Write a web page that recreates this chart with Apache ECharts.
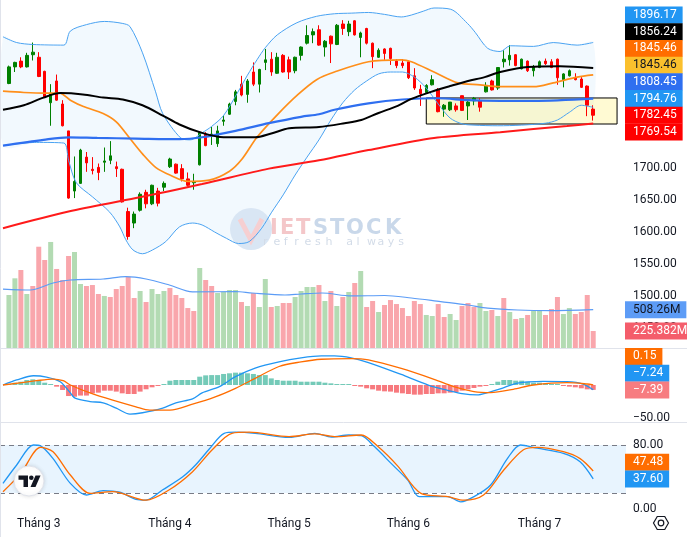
<!DOCTYPE html>
<html>
<head>
<meta charset="utf-8">
<script src="https://cdn.jsdelivr.net/npm/echarts@6.0.0/dist/echarts.min.js"></script>
<style>
html,body{margin:0;padding:0;background:#ffffff;}
#chart{width:687px;height:537px;}
</style>
</head>
<body>
<div id="chart"></div>
<script>
// ---------------- DATA ----------------
const monthIdx   = [5, 27, 47, 67, 89];
const monthNames = ['Tháng 3', 'Tháng 4', 'Tháng 5', 'Tháng 6', 'Tháng 7'];

const opens  = [1832,1858,1867,1858,1877,1873,1851,1802,1836,1800,1758,1664,1676,1717,1698,1701,1709,1712,1702,1698,
                1632,1614,1634,1662,1644,1664,1670,1702,1706,1699,1683,1677,1705,1753,1750,1738,1773,1784,1804,1831,
                1815,1850,1831,1865,1870,1848,1876,1869,1852,1876,1895,1908,1916,1889,1906,1893,1925,1913,1930,1904,
                1918,1895,1873,1886,1887,1867,1864,1866,1844,1823,1818,1830,1822,1792,1791,1797,1813,1797,1805,1805,
                1819,1836,1825,1866,1869,1877,1855,1867,1852,1857,1867,1866,1870,1838,1844,1841,1839,1828,1792];
const closes = [1858,1865,1858,1876,1881,1843,1811,1817,1806,1766,1653,1679,1728,1708,1696,1693,1711,1719,1699,1647,
                1593,1628,1659,1644,1673,1645,1676,1714,1692,1683,1673,1679,1756,1735,1753,1758,1775,1800,1819,1814,
                1836,1831,1854,1869,1850,1873,1850,1850,1873,1889,1907,1913,1892,1898,1894,1923,1918,1925,1908,1911,
                1895,1874,1884,1879,1871,1860,1860,1841,1825,1816,1829,1838,1788,1798,1803,1791,1790,1803,1809,1795,
                1829,1822,1857,1870,1876,1860,1870,1852,1858,1866,1863,1857,1841,1847,1852,1838,1826,1798,1782.45];
const lows   = [1831,1850,1856,1857,1868,1842,1810,1766,1805,1765,1652,1653,1675,1694,1690,1681,1694,1706,1686,1646,
                1588,1606,1632,1637,1642,1640,1664,1700,1691,1679,1671,1666,1704,1734,1736,1733,1766,1783,1798,1812,
                1802,1828,1818,1853,1844,1847,1849,1839,1848,1868,1893,1895,1891,1874,1864,1892,1908,1906,1907,1873,
                1893,1856,1872,1869,1861,1856,1856,1839,1822,1797,1816,1829,1787,1780,1789,1788,1789,1775,1798,1788,
                1818,1821,1822,1857,1860,1859,1854,1850,1843,1856,1861,1856,1830,1826,1843,1837,1825,1781,1774];
const highs  = [1860,1866,1873,1880,1896,1881,1852,1831,1846,1806,1758,1718,1730,1725,1717,1707,1732,1742,1710,1699,
                1638,1632,1662,1666,1674,1669,1679,1716,1707,1706,1693,1691,1757,1756,1764,1766,1782,1802,1822,1844,
                1839,1865,1855,1886,1881,1880,1878,1874,1874,1890,1923,1918,1923,1900,1907,1925,1931,1930,1931,1913,
                1919,1896,1887,1887,1888,1870,1870,1868,1856,1830,1831,1845,1825,1800,1803,1801,1813,1806,1811,1809,
                1834,1838,1857,1884,1892,1878,1871,1868,1861,1868,1871,1870,1871,1848,1854,1848,1842,1829,1798];

// volume in millions, and its colour direction as seen (1 = green, 0 = red)
const volumes = [703,924,1034,716,822,1343,1167,1406,1048,902,1220,1273,849,822,835,716,690,676,782,822,
                 946,663,756,610,782,716,756,796,703,663,530,491,1061,902,822,729,743,769,769,610,
                 557,729,544,915,544,557,597,597,676,756,809,809,835,623,756,557,676,743,862,1021,
                 544,623,477,570,636,583,530,424,623,583,438,424,583,411,451,371,557,597,544,597,
                 491,504,424,663,477,385,398,438,491,491,438,517,676,451,530,451,477,703,225.382];
const volUp   = [1,1,0,1,0,0,0,1,0,0,0,1,1,0,0,0,1,0,0,0,
                 0,0,1,0,1,1,1,0,0,0,0,0,1,0,0,1,1,1,1,0,
                 1,0,1,1,0,1,0,0,1,1,1,1,0,1,0,1,0,1,0,1,
                 0,0,1,0,0,0,0,0,0,0,1,1,0,0,1,1,0,0,0,1,
                 1,0,1,0,1,0,1,0,1,1,0,0,0,1,1,0,0,0,0];
const volMA = [[-1,782],[3.6,769],[7.4,862],[10.3,902],[15.8,915],[19.6,946],[23,915],[26.9,835],[30.8,743],
               [38,749],[40.8,729],[46.3,703],[49,716],[52.5,729],[57.4,690],[63,696],[67.5,663],[72.4,615],
               [77,570],[80.3,530],[85.3,504],[90.8,495],[98,508.26]];

// price overlays: [candle index, value]
const bbUpper = [[-1,1905],[1.3,1896],[4,1893],[9.2,1892],[10.3,1914],[13,1924],[16,1929],[19,1926],[20.3,1921],
                 [22.4,1880],[24.6,1819],[25.8,1785],[28.8,1747],[30.4,1744],[32.4,1755],[34,1765],[36,1782],
                 [38.3,1817],[40,1845],[41.6,1869],[43,1888],[45,1908],[48.3,1927],[51.6,1937],[54.6,1941],
                 [57.5,1942],[60.3,1943],[63,1940],[65.8,1936],[67.5,1939],[69.5,1945],[71.3,1950],[74.1,1948],
                 [76.9,1926],[78.2,1912],[80.3,1887],[82.4,1882],[84.1,1891],[88,1890],[91.3,1896],[95.3,1892],
                 [98,1896.17]];
const bbLower = [[-1,1735],[4.6,1740],[9.2,1739],[10,1712],[11.3,1677],[14,1655],[16.9,1631],[18.6,1608],
                 [19.6,1588],[20.8,1572],[22.4,1566],[24.1,1572],[26.3,1585],[28.6,1608],[30.8,1614],[32.4,1611],
                 [34.5,1600],[36.5,1590],[38.5,1582],[40.3,1585],[42.4,1606],[44,1630],[46,1658],[48,1689],
                 [50,1717],[52,1744],[54,1775],[56,1802],[58,1822],[60,1836],[62,1847],[64,1850],[66,1850],
                 [68,1842],[70,1825],[72,1800],[74,1778],[76,1769],[78,1767],[82,1766],[86,1767],[90,1770],
                 [92,1775],[94,1787],[96,1798],[98,1794.76]];
const bbBasis = [[-1,1820],[2.5,1818],[6,1817],[8.5,1817],[10.3,1806],[12.5,1796],[15.8,1785],[18,1772],
                 [20.3,1746],[22.4,1722],[24.6,1701],[27,1689],[30,1679],[33.6,1681],[37,1695],[39.1,1714],
                 [41.6,1748],[45.2,1785],[48.5,1815],[51.6,1838],[54.6,1850],[60.3,1866],[65.8,1869],[67.5,1866],
                 [71.3,1850],[75.3,1833],[79,1830],[82.4,1827],[88,1827],[91.3,1833],[95.3,1842],[98,1845.46]];
const sma50   = [[-1,1791],[2.5,1798],[5.8,1810],[8.6,1817],[12.4,1815],[15.8,1810],[19.1,1807],[22.4,1798],
                 [25.8,1782],[28.6,1768],[32,1756],[36,1748],[41.3,1748],[44,1754],[47,1762],[52,1764],
                 [56.3,1770],[59.1,1775],[62,1786],[65.2,1797],[67.5,1808],[70.8,1819],[74,1828],[77,1836],
                 [79.8,1842],[82.4,1850],[87,1858],[92.4,1859],[98,1856.24]];
const sma100  = [[-1,1735],[5.8,1744],[10,1748],[14.8,1747],[21.3,1746],[28.6,1745],[32.4,1748],[38,1758],
                 [43.6,1770],[49,1780],[52,1784],[54.6,1791],[60.3,1801],[66,1807],[72,1809],[77,1806],
                 [82.4,1805],[88,1805],[98,1808.45]];
const sma200  = [[-1,1606],[10,1632],[21.3,1653],[32.4,1675],[43.6,1699],[52,1712],[60.3,1728],[71.3,1747],
                 [82.4,1756],[93.6,1765.6],[98,1769.54]];
const zoneBox = {from: 70, to: 102, top: 1809.4, bottom: 1768.75};

// MACD
const macdLine = [[-1,0],[1.3,7.6],[4.1,14],[6.3,12],[8.6,5],[10.3,-12],[11.1,-20],[13.6,-25],[15.8,-27],
                  [18,-35],[20.3,-44],[22.4,-42],[25.8,-35],[28,-27],[30.8,-21],[32.4,-12],[35.3,-2.5],[38,12.6],
                  [41.3,25.6],[45.3,35],[49,41],[52.4,44],[54.6,44],[57.4,41],[60.3,34],[65.8,16],[68.6,6],
                  [71.3,-3],[73.6,-8],[76,-13],[78.5,-15],[80.5,-11],[82.4,-6],[85.3,3],[89.6,5.5],[93.6,5],
                  [96.3,1.5],[98,-7.24]];
const signalLine = [[-1,0],[4.6,6.5],[7.4,9],[9.1,6.5],[10.3,0],[13.6,-12],[17.4,-23],[21.3,-33],[23.6,-38],
                    [27,-38],[30.8,-29],[34.6,-18],[38,-5],[41.3,10],[45.3,28],[49,35],[52.4,39],[57.4,40],
                    [60.3,38],[65.8,25],[71.3,8.6],[74.6,-2.5],[78,-10],[80.8,-11.6],[84.6,-6.5],[88,0],
                    [93.6,3.5],[97,1.5],[98,0.15]];
const macdHist = [1.5,3.5,5,7.6,8.6,6.5,3.5,1.5,-2.5,-7.6,-16.7,-17.7,-16,-16,-12.6,-11.6,-8.6,-8.6,-10,-12.6,
                  -13.6,-13.6,-10,-6.5,-3.5,-1.5,1.5,6.5,7.6,7.6,7.6,7.6,12.6,14.6,15,15,16.7,17.7,18.7,18.7,
                  17.7,16.7,15,15,10,7.6,6.5,6.5,6.5,5,5,5,5,3.5,2.5,1.5,1.5,1.5,-1.5,-2.5,
                  -5,-6.6,-8.6,-9.6,-10,-11.6,-12.6,-13.6,-14.6,-14.6,-13.6,-13.6,-12.6,-12.6,-11.6,-10.6,-8.6,-6.6,-4.5,-2.5,
                  -1.5,1.5,5,7.6,7.6,6.6,6.6,5,3.5,3.5,2.5,1.5,1.5,-1.5,-2.5,-3.5,-5,-6.6,-7.39];

// Stochastic
const stochK = [[-1,32],[1.3,55],[4.1,80],[5.3,79],[7.4,63],[10.3,32],[13,17.5],[15.8,23],[18.6,21],[21.3,12],
                [23,11],[25.8,24],[29.1,40],[31.3,55],[33.6,75],[36.1,94.6],[38,96],[41.3,94.6],[47,89.6],
                [51.3,94.6],[54.1,90],[57,92.5],[59.1,91.6],[61.3,78],[64.1,57],[66.9,36],[68.8,15.4],[70.8,15.4],
                [73.6,15.4],[75.8,9],[78,15.4],[80.8,30],[83.6,63],[85.8,80],[88.6,76],[93,69.6],[95.8,59],[98,37.6]];
const stochD = [[-1,21.6],[2,44.6],[5.3,77],[7.4,71.6],[10.3,42.5],[13.6,19.6],[17.4,21.6],[23,11],[26.9,24],
                [30.8,46.6],[34.1,74],[37.4,94.6],[40.3,96],[47,90.4],[51.3,94],[54.6,90.4],[59.1,92.5],[61.9,78],
                [65.3,53],[69.1,19.6],[73.6,15.4],[76.3,11],[79.6,17.5],[83,48.8],[86.3,74],[88.6,77],[93,71.6],
                [95.8,63],[98,47.48]];

const priceTicks = [1450, 1500, 1550, 1600, 1650, 1700];
const macdTicks  = [-50];
const stochTicks = [0, 80];
const stochBands = [20, 80];

// ---------------- CHART ----------------
const PAD = 1, N = 105;
const FONT = 'Roboto, "Noto Sans", sans-serif';
const TXT = '#131722';
const cats = Array.from({length: N}, (_, k) => String(k));
const last = a => a[a.length - 1][1];
const fmt = v => v.toFixed(2).replace('-', '\u2212');
const shift = arr => arr.map(p => [p[0] + PAD, p[1]]);

const candleData = cats.map((_, k) => {
  const c = k - PAD;
  return (c >= 0 && c < opens.length) ? [opens[c], closes[c], lows[c], highs[c]] : '-';
});
const volData = cats.map((_, k) => {
  const c = k - PAD;
  return (c >= 0 && c < volumes.length)
    ? {value: volumes[c], itemStyle: {color: volUp[c] ? '#b3dbb3' : '#f9a6ac'}} : '-';
});
const histData = cats.map((_, k) => {
  const c = k - PAD;
  return (c >= 0 && c < macdHist.length)
    ? {value: macdHist[c], itemStyle: {color: macdHist[c] >= 0 ? '#74cab8' : '#f7797e'}} : '-';
});

function line(data, xi, yi, color, width, z) {
  return {type: 'line', xAxisIndex: xi, yAxisIndex: yi, data: shift(data), showSymbol: false, symbol: 'none',
          smooth: 0.3, lineStyle: {color: color, width: width}, z: z, silent: true};
}
const axisLbl = (ticks) => ({customValues: ticks, formatter: v => fmt(v), color: TXT, fontSize: 12,
                             fontFamily: FONT, margin: 7});
const grids = [
  {left: -4, width: 630, top: 0, height: 348},
  {left: -4, width: 630, top: 348, height: 74},
  {left: -4, width: 630, top: 422, height: 90}
];

const chart = echarts.init(document.getElementById('chart'), null, {renderer: 'canvas'});
chart.setOption({
  animation: false,
  backgroundColor: '#ffffff',
  textStyle: {fontFamily: FONT},
  grid: grids,
  xAxis: [
    {type: 'category', gridIndex: 0, data: cats, show: false},
    {type: 'value', gridIndex: 0, min: -0.5, max: N - 0.5, show: false},
    {type: 'category', gridIndex: 1, data: cats, show: false},
    {type: 'value', gridIndex: 1, min: -0.5, max: N - 0.5, show: false},
    {type: 'category', gridIndex: 2, data: cats, axisLine: {show: false}, axisTick: {show: false},
     splitLine: {show: false},
     axisLabel: {interval: (i) => monthIdx.indexOf(i - PAD) >= 0,
                 formatter: (v, i) => { const m = monthIdx.indexOf(i - PAD); return m >= 0 ? monthNames[m] : ''; },
                 color: TXT, fontSize: 12, fontFamily: FONT, margin: 6}},
    {type: 'value', gridIndex: 2, min: -0.5, max: N - 0.5, show: false}
  ],
  yAxis: [
    {type: 'value', gridIndex: 0, position: 'right', min: 1418.75, max: 1962.5, axisLine: {show: false},
     axisTick: {show: false}, splitLine: {show: false}, axisLabel: axisLbl(priceTicks)},
    {type: 'value', gridIndex: 0, min: 0, max: 4614.5, show: false},
    {type: 'value', gridIndex: 1, position: 'right', min: -56, max: 56, axisLine: {show: false},
     axisTick: {show: false}, splitLine: {show: false}, axisLabel: axisLbl(macdTicks)},
    {type: 'value', gridIndex: 2, position: 'right', min: -3.75, max: 108.75, axisLine: {show: false},
     axisTick: {show: false}, splitLine: {show: false}, axisLabel: axisLbl(stochTicks)}
  ],
  series: [
    // Bollinger fill
    {type: 'custom', xAxisIndex: 1, yAxisIndex: 0, data: [[0, 0]], z: 0, silent: true,
     renderItem: (params, api) => {
       const pts = shift(bbUpper).map(p => api.coord(p))
         .concat(shift(bbLower).reverse().map(p => api.coord(p)));
       return {type: 'polygon', shape: {points: pts, smooth: 0.3}, style: {fill: 'rgba(33,150,243,0.06)'}};
     }},
    // volume
    {type: 'bar', xAxisIndex: 0, yAxisIndex: 1, data: volData, barWidth: 5, z: 1, silent: true},
    line(volMA, 1, 1, '#5b9cf6', 1.2, 2),
    // candles
    {type: 'candlestick', xAxisIndex: 0, yAxisIndex: 0, data: candleData, barWidth: 3, z: 3, silent: true,
     itemStyle: {color: '#008000', color0: '#ff0000', borderColor: '#008000', borderColor0: '#ff0000', borderWidth: 1},
     markArea: {silent: true, z: 1,
       itemStyle: {color: 'rgba(255,241,118,0.32)', borderColor: '#000000', borderWidth: 1},
       data: [[{xAxis: zoneBox.from + PAD, yAxis: zoneBox.top}, {xAxis: zoneBox.to + PAD, yAxis: zoneBox.bottom}]]}},
    line(bbUpper, 1, 0, '#4aa3f2', 1, 4),
    line(bbLower, 1, 0, '#4aa3f2', 1, 4),
    line(sma200, 1, 0, '#ff1a1a', 2, 4),
    line(bbBasis, 1, 0, '#ff8f1a', 1.7, 5),
    line(sma100, 1, 0, '#2f6ff0', 2.2, 5),
    line(sma50, 1, 0, '#000000', 2, 6),
    // MACD
    {type: 'bar', xAxisIndex: 2, yAxisIndex: 2, data: histData, barWidth: 5, z: 2, silent: true},
    line(macdLine, 3, 2, '#2196f3', 1.3, 4),
    line(signalLine, 3, 2, '#ff6d00', 1.3, 4),
    // Stochastic
    Object.assign(line(stochK, 5, 3, '#2196f3', 1.3, 4), {
      markArea: {silent: true, z: 1, itemStyle: {color: 'rgba(33,150,243,0.1)'},
                 data: [[{yAxis: stochBands[0]}, {yAxis: stochBands[1]}]]},
      markLine: {silent: true, symbol: 'none', z: 2, label: {show: false},
                 lineStyle: {color: '#787b86', type: [5, 4], width: 1},
                 data: stochBands.map(b => ({yAxis: b}))}
    }),
    line(stochD, 5, 3, '#ff6d00', 1.3, 4)
  ]
});

// ---------------- axis value tags (TradingView style, stacked) ----------------
function stackTags(yAxisIndex, items, anchor) {
  const H = 16.7;
  const ys = items.map(it => chart.convertToPixel({yAxisIndex: yAxisIndex}, it.v));
  const pos = ys.slice();
  for (let j = anchor - 1; j >= 0; j--) pos[j] = Math.min(ys[j], pos[j + 1] - H);
  for (let j = anchor + 1; j < items.length; j++) pos[j] = Math.max(ys[j], pos[j - 1] + H);
  return items.map((it, j) => ({
    type: 'text', x: 625, y: pos[j], z: 100, silent: true,
    style: {text: it.t, fill: it.fg || '#ffffff', backgroundColor: it.bg, padding: [2, 6, 2, 8],
            font: '12px ' + FONT, lineHeight: 13, verticalAlign: 'middle', align: 'left'}
  }));
}
const priceTags = [
  {v: last(bbUpper), bg: '#2196f3'},
  {v: last(sma50), bg: '#000000'},
  {v: last(bbBasis), bg: '#ff6d00'},
  {v: last(bbBasis), bg: '#fbc02d', fg: TXT},
  {v: last(sma100), bg: '#2f6ff0'},
  {v: last(bbLower), bg: '#2196f3'},
  {v: closes[closes.length - 1], bg: '#ff0000'},
  {v: last(sma200), bg: '#ff0000'}
].map(o => Object.assign(o, {t: fmt(o.v)}));
const volTags = [
  {v: last(volMA), t: last(volMA) + 'M', bg: '#5d9cf6', fg: TXT},
  {v: volumes[volumes.length - 1], t: volumes[volumes.length - 1] + 'M', bg: '#f45d6b'}
];
const macdTags = [
  {v: last(signalLine), bg: '#ff6d00'},
  {v: last(macdLine), bg: '#2196f3'},
  {v: macdHist[macdHist.length - 1], bg: '#f77c80'}
].map(o => Object.assign(o, {t: fmt(o.v)}));
const stochTags = [
  {v: last(stochD), bg: '#ff6d00'},
  {v: last(stochK), bg: '#2196f3'}
].map(o => Object.assign(o, {t: fmt(o.v)}));

const graphics = [];
// pane borders
graphics.push({type: 'line', shape: {x1: 0.5, y1: 0, x2: 0.5, y2: 537}, style: {stroke: '#e0e3eb', lineWidth: 1}, z: 50, silent: true});
graphics.push({type: 'line', shape: {x1: 0, y1: 348.5, x2: 687, y2: 348.5}, style: {stroke: '#e0e3eb', lineWidth: 1}, z: 50, silent: true});
graphics.push({type: 'line', shape: {x1: 0, y1: 422.5, x2: 687, y2: 422.5}, style: {stroke: '#e0e3eb', lineWidth: 1}, z: 50, silent: true});

// watermark
graphics.push({type: 'circle', shape: {cx: 251, cy: 229, r: 21}, style: {fill: '#d9e6f4'}, z: 1, silent: true});
graphics.push({type: 'polyline', shape: {points: [[240, 219], [251, 240], [262, 219]]},
               style: {stroke: '#f6cfd1', lineWidth: 5, fill: null}, z: 1, silent: true});
const wmX = [270, 280, 296, 313, 330, 346, 366, 385];
'IETSTOCK'.split('').forEach((ch, k) => {
  graphics.push({type: 'text', x: wmX[k], y: 229, z: 1, silent: true,
    style: {text: ch, fill: k < 3 ? '#f4c7c9' : '#c9d8ea', font: 'bold 21px "DejaVu Sans"', verticalAlign: 'middle', align: 'left'}});
});
'refresh always'.split('').forEach((ch, k) => {
  graphics.push({type: 'text', x: 263 + k * 10.4, y: 242, z: 1, silent: true,
    style: {text: ch, fill: '#d3dce8', font: '11px "DejaVu Sans"', verticalAlign: 'middle', align: 'left'}});
});

// TradingView badge
graphics.push({type: 'circle', shape: {cx: 29, cy: 481, r: 15}, z: 60, silent: true,
  style: {fill: '#ffffff', stroke: '#e0e3eb', lineWidth: 1, shadowBlur: 4, shadowColor: 'rgba(0,0,0,0.12)'}});
graphics.push({type: 'polygon', shape: {points: [[18.5, 475.5], [28, 475.5], [28, 487], [23.5, 487], [23.5, 479.8], [18.5, 479.8]]},
  style: {fill: '#131722'}, z: 61, silent: true});
graphics.push({type: 'circle', shape: {cx: 31.3, cy: 477.8, r: 2.3}, style: {fill: '#131722'}, z: 61, silent: true});
graphics.push({type: 'polygon', shape: {points: [[35.5, 475.5], [40.5, 475.5], [35.5, 487], [30.5, 487]]},
  style: {fill: '#131722'}, z: 61, silent: true});

// settings icon
const hex = [];
for (let a = 0; a < 6; a++) hex.push([661 + 7.5 * Math.cos(a * Math.PI / 3), 523 + 7.5 * Math.sin(a * Math.PI / 3)]);
graphics.push({type: 'polygon', shape: {points: hex}, style: {fill: null, stroke: TXT, lineWidth: 1.2}, z: 60, silent: true});
graphics.push({type: 'circle', shape: {cx: 661, cy: 523, r: 2.8}, style: {fill: null, stroke: TXT, lineWidth: 1.2}, z: 60, silent: true});

// tags
stackTags(0, priceTags, 6).forEach(g => graphics.push(g));
stackTags(1, volTags, 1).forEach(g => graphics.push(g));
stackTags(2, macdTags, 2).forEach(g => graphics.push(g));
stackTags(3, stochTags, 1).forEach(g => graphics.push(g));

chart.setOption({graphic: {elements: graphics}});
</script>
</body>
</html>
